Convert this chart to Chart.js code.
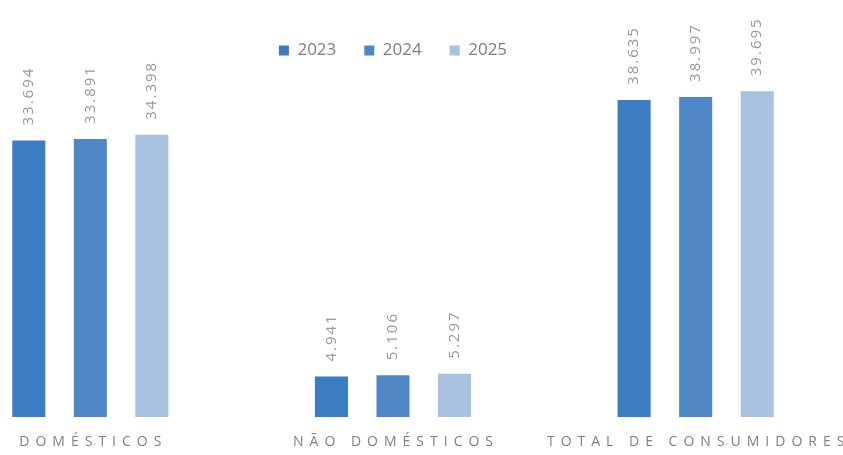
<!DOCTYPE html>
<html><head><meta charset="utf-8">
<script src="https://cdn.jsdelivr.net/npm/chart.js@4.4.1/dist/chart.umd.min.js"></script>
<style>
html,body{margin:0;padding:0;background:#fff;overflow:hidden;width:843px;height:455px;position:relative;}
#wrap{position:absolute;left:-61px;top:0;width:908px;height:471px;}
</style></head><body>
<div id="wrap"><canvas id="c"></canvas></div>
<script>
const categories = ['DOMÉSTICOS', 'NÃO DOMÉSTICOS', 'TOTAL DE CONSUMIDORES'];
const seriesNames = ['2023', '2024', '2025'];
const values2023 = [33694, 4941, 38635];
const values2024 = [33891, 5106, 38997];
const values2025 = [34398, 5297, 39695];
const seriesColors = ['#3b7cc3', '#4f87c6', '#a9c2e1'];

function fmt(v) { return String(v).replace(/\B(?=(\d{3})+(?!\d))/g, '.'); }

const valueLabels = {
  id: 'valueLabels',
  afterDatasetsDraw(chart) {
    const ctx = chart.ctx;
    chart.data.datasets.forEach((ds, i) => {
      const meta = chart.getDatasetMeta(i);
      meta.data.forEach((bar, j) => {
        ctx.save();
        ctx.translate(bar.x, bar.y - 15);
        ctx.rotate(-Math.PI / 2);
        ctx.font = '15px "Open Sans"';
        ctx.letterSpacing = '2px';
        ctx.fillStyle = '#999999';
        ctx.textAlign = 'left';
        ctx.textBaseline = 'middle';
        ctx.fillText(fmt(ds.data[j]), 0, 0);
        ctx.restore();
      });
    });
  }
};

const spacedTicks = {
  id: 'spacedTicks',
  beforeDraw(chart) {
    const s = chart.scales.x;
    if (s && !s._spaced) {
      const orig = s.drawLabels;
      s.drawLabels = function (a) {
        const c = this.ctx;
        c.save();
        c.letterSpacing = '6px';
        c.translate(3, 0);
        orig.call(this, a);
        c.restore();
      };
      s._spaced = true;
    }
  }
};

new Chart(document.getElementById('c'), {
  type: 'bar',
  data: {
    labels: categories,
    datasets: [
      { label: seriesNames[0], data: values2023, backgroundColor: seriesColors[0] },
      { label: seriesNames[1], data: values2024, backgroundColor: seriesColors[1] },
      { label: seriesNames[2], data: values2025, backgroundColor: seriesColors[2] }
    ]
  },
  options: {
    responsive: true,
    maintainAspectRatio: false,
    animation: false,
    categoryPercentage: 0.61,
    barPercentage: 0.537,
    layout: { padding: { top: 14, bottom: 5, left: 0, right: 0 } },
    plugins: {
      legend: {
        position: 'top',
        align: 'center',
        labels: {
          boxWidth: 10, boxHeight: 10, padding: 28,
          color: '#7f7f7f',
          font: { family: '"Open Sans"', size: 17 }
        }
      },
      tooltip: { enabled: false }
    },
    scales: {
      x: {
        grid: { display: false, drawTicks: false },
        border: { display: false },
        ticks: {
          padding: 16,
          color: '#808080',
          font: { family: '"Open Sans"', size: 14 },
          maxRotation: 0, autoSkip: false
        }
      },
      y: {
        display: false,
        min: 0,
        max: 42400
      }
    }
  },
  plugins: [valueLabels, spacedTicks]
});
</script>
</body></html>
